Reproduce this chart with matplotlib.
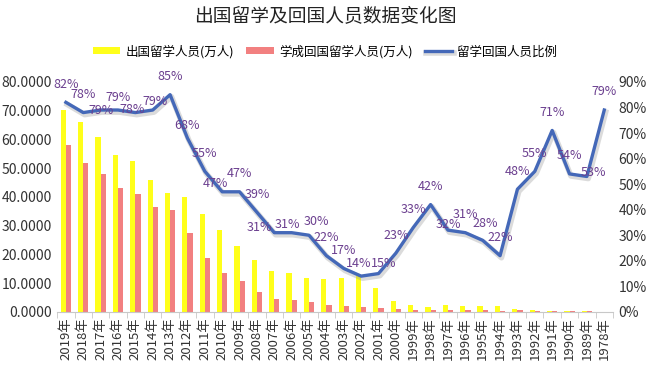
import numpy as np
import matplotlib
matplotlib.use('Agg')
import matplotlib.pyplot as plt
import matplotlib.patheffects as pe
from matplotlib.ticker import FormatStrFormatter, PercentFormatter, FixedLocator

plt.rcParams['font.family'] = ['Noto Sans CJK SC', 'DejaVu Sans']

# data _________________________________________________
years = ['2019', '2018', '2017', '2016', '2015', '2014', '2013', '2012',
         '2011', '2010', '2009', '2008', '2007', '2006', '2005', '2004',
         '2003', '2002', '2001', '2000', '1999', '1998', '1997', '1996',
         '1995', '1994', '1993', '1992', '1991', '1990', '1989', '1978']
year_labels = [y + '年' for y in years]

# 出国留学人员 (万人)
went_abroad = [70.35, 66.21, 60.84, 54.45, 52.37, 45.98, 41.39, 39.96,
               33.97, 28.47, 22.93, 17.98, 14.40, 13.40, 11.85, 11.47,
               11.73, 12.50, 8.40, 3.90, 2.37, 1.76, 2.24, 2.09,
               2.04, 1.91, 1.07, 0.65, 0.29, 0.30, 0.33, 0.09]
# 学成回国留学人员 (万人)
returned = [58.03, 51.94, 48.09, 43.25, 40.91, 36.48, 35.35, 27.29,
            18.62, 13.48, 10.83, 6.93, 4.40, 4.20, 3.50, 2.51,
            2.02, 1.79, 1.22, 0.91, 0.77, 0.74, 0.71, 0.65,
            0.57, 0.42, 0.51, 0.36, 0.21, 0.16, 0.18, 0.07]
# 留学回国人员比例 (%)
ratio = [82, 78, 79, 79, 78, 79, 85, 68, 55, 47, 47, 39, 31, 31, 30, 22,
         17, 14, 15, 23, 33, 42, 32, 31, 28, 22, 48, 55, 71, 54, 53, 79]

# label nudges in points (dx, dy) where the label isn't sitting above the point
nudge = {2: (0, 0), 3: (0, 9), 4: (-2, 2), 5: (2, 6), 7: (0, 9), 9: (-5, 6),
         12: (-11, 4), 13: (-3, 6), 14: (5, 10), 17: (-2, 9), 18: (4, 7),
         22: (0, 4), 24: (2, 12), 30: (5, 3)}

yellow = '#FFFF1A'
pink = '#F28080'
blue = '#4468B8'
purple = '#6B3F8F'

#______________________________

fig = plt.figure(figsize=(6.5, 3.74), dpi=100)
ax = fig.add_axes([0.088, 0.166, 0.855, 0.615])
x = np.arange(len(years))
w = 0.3

ax.bar(x - w / 2, went_abroad, w, color=yellow, label='出国留学人员(万人)', zorder=2)
ax.bar(x + w / 2, returned, w, color=pink, label='学成回国留学人员(万人)', zorder=2)

ax.set_xlim(-0.5, len(years) - 0.5)
ax.set_ylim(0, 80)
ax.set_yticks(np.arange(0, 81, 10))
ax.yaxis.set_major_formatter(FormatStrFormatter('%.4f'))
ax.set_xticks(x)
ax.set_xticklabels(year_labels, rotation=90, fontsize=9.5, color='#333333')
ax.xaxis.set_minor_locator(FixedLocator(np.arange(-0.5, len(years), 1)))
ax.tick_params(axis='x', which='major', length=0, pad=4)
ax.tick_params(axis='x', which='minor', length=4, color='#C8C8C8')
ax.tick_params(axis='y', length=0, labelsize=10, labelcolor='#333333', pad=4)
for s in ['top', 'left', 'right']:
    ax.spines[s].set_visible(False)
ax.spines['bottom'].set_color('#C8C8C8')

ax2 = ax.twinx()
ax2.plot(x, ratio, color=blue, lw=2.4, label='留学回国人员比例', zorder=3,
         path_effects=[pe.SimpleLineShadow(offset=(1, -1.5), shadow_color='#999999', alpha=0.35, linewidth=4),
                       pe.Normal()])
ax2.set_ylim(0, 90)
ax2.set_yticks(np.arange(0, 91, 10))
ax2.yaxis.set_major_formatter(PercentFormatter(decimals=0))
ax2.tick_params(axis='y', length=0, labelsize=10, labelcolor='#333333', pad=4)
for s in ['top', 'left', 'right', 'bottom']:
    ax2.spines[s].set_visible(False)

for i, r in enumerate(ratio):
    dx, dy = nudge.get(i, (0, 13))
    ax2.annotate(f'{r}%', (i, r), xytext=(dx, dy), textcoords='offset points',
                 ha='center', va='center', fontsize=9, color=purple, zorder=4)

fig.text(0.5, 0.957, '出国留学及回国人员数据变化图', ha='center', va='center',
         fontsize=13.5, color='#222222')

h1, l1 = ax.get_legend_handles_labels()
h2, l2 = ax2.get_legend_handles_labels()
fig.legend(h1 + h2, l1 + l2, loc='center', bbox_to_anchor=(0.5, 0.862), ncol=3,
           frameon=False, fontsize=9, handlelength=2.2, handleheight=0.5,
           columnspacing=1.0, handletextpad=0.4)

fig.savefig('out.png', dpi=100)
